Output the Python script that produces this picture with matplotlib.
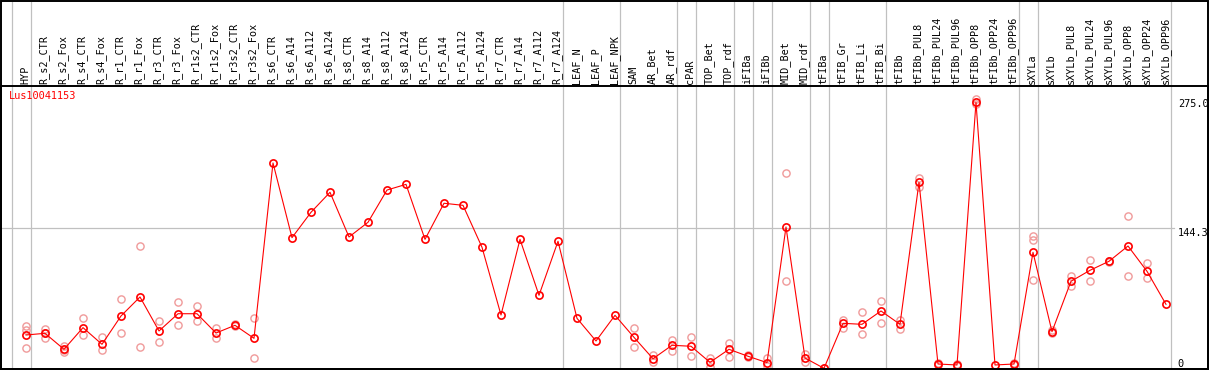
import math
import matplotlib
matplotlib.use("Agg")
import matplotlib.pyplot as plt
import matplotlib.transforms as mtransforms
from matplotlib.patches import Rectangle

gene = "Lus10041153"

samples = [
    "HYP", "R_s2_CTR", "R_s2_Fox", "R_s4_CTR", "R_s4_Fox", "R_r1_CTR", "R_r1_Fox",
    "R_r3_CTR", "R_r3_Fox", "R_r1s2_CTR", "R_r1s2_Fox", "R_r3s2_CTR", "R_r3s2_Fox",
    "R_s6_CTR", "R_s6_A14", "R_s6_A112", "R_s6_A124", "R_s8_CTR", "R_s8_A14",
    "R_s8_A112", "R_s8_A124", "R_r5_CTR", "R_r5_A14", "R_r5_A112", "R_r5_A124",
    "R_r7_CTR", "R_r7_A14", "R_r7_A112", "R_r7_A124", "LEAF_N", "LEAF_P", "LEAF_NPK",
    "SAM", "AR_Bet", "AR_rdf", "cPAR", "TOP_Bet", "TOP_rdf", "iFIBa", "iFIBb",
    "MID_Bet", "MID_rdf", "tFIBa", "tFIB_Gr", "tFIB_Li", "tFIB_Bi", "tFIBb",
    "tFIBb_PUL8", "tFIBb_PUL24", "tFIBb_PUL96", "tFIBb_OPP8", "tFIBb_OPP24",
    "tFIBb_OPP96", "sXYLa", "sXYLb", "sXYLb_PUL8", "sXYLb_PUL24", "sXYLb_PUL96",
    "sXYLb_OPP8", "sXYLb_OPP24", "sXYLb_OPP96",
]

# mean expression per sample
means = [
    34.7, 36.4, 20.1, 42.2, 25.2, 54.1, 73.5, 38.8, 56.4, 56.4, 36.7, 44.6, 31.3,
    210.2, 134.0, 159.9, 180.3, 134.7, 149.7, 182.6, 188.4, 132.3, 169.1, 167.0,
    124.2, 55.1, 132.3, 75.2, 130.3,
    51.7, 28.6, 54.8, 32.3, 10.5, 24.2, 23.2, 6.8, 20.1, 13.0, 6.5, 144.9, 11.2,
    0.7, 46.6, 45.6, 59.2, 45.6,
    190.5, 5.1, 4.1, 272.0, 4.1, 5.1, 119.0, 38.1, 89.5, 100.7, 109.9, 125.5,
    99.7, 66.0,
]

# individual replicates (pink circles)
replicates = [
    [43.9, 39.8, 21.1], [41.1, 31.6, 36.5], [23.8, 17.0, 19.5], [51.7, 34.4],
    [32.6, 19.1], [71.1, 36.4], [125.5, 22.4], [49.0, 27.2], [68.1, 44.6],
    [64.3, 48.7], [42.2, 31.3], [45.5, 43.8], [51.7, 11.2],
    [], [], [], [], [], [], [], [], [], [], [], [], [], [], [], [],
    [], [], [],
    [41.5, 22.1], [14.0, 7.5], [29.9, 18.7], [32.3, 13.6], [10.9, 2.3],
    [26.5, 12.6], [14.5, 11.8], [10.9, 3.1], [199.7, 89.5], [15.3, 6.8],
    [1.5], [50.0, 42.2], [57.9, 35.4], [69.1, 46.6], [50.0, 40.8],
    [194.6, 186.0], [6.0, 4.0], [5.0, 3.5], [275.0, 270.0], [], [6.0, 4.5],
    [135.7, 131.6, 90.5], [40.0, 36.5], [94.9, 85.0], [110.9, 89.5],
    [110.5, 109.3], [156.1, 94.6], [107.8, 92.5], [],
]

# group separators fall after these sample indices
separators = [-1, 0, 28, 31, 34, 35, 37, 38, 39, 41, 42, 45, 52, 53, 60]

RED = "#ff0000"
PINK = "#f09a9a"
GREY = "#c0c0c0"
MONO = "DejaVu Sans Mono"

W, H = 1209, 370
fig = plt.figure(figsize=(W / 100, H / 100), dpi=100)
ax = fig.add_axes([1 / W, 1 / H, 1207 / W, 283 / H])

peak = max(max(means), max(v for r in replicates for v in r))
ymax = peak * 1.05
ax.set_ylim(0, ymax)
ax.set_xlim(-25 / 19, 1182 / 19)
ax.set_xticks([])
ax.set_yticks([])
for s in ax.spines.values():
    s.set_linewidth(1.4)

xs = list(range(len(samples)))
hdr = mtransforms.blended_transform_factory(ax.transData, fig.transFigure)

# separators
ax.vlines([i + 5 / 19 for i in separators], 0, 1, transform=hdr,
          color=GREY, lw=0.9, clip_on=False, zorder=0)
ax.axhline(ymax / 2, xmin=0, xmax=0.972, color=GREY, lw=0.9, zorder=0)

# replicates
for i, reps in enumerate(replicates):
    if reps:
        ax.plot([i] * len(reps), reps, ls="none", marker="o", ms=5.2,
                mfc="none", mec=PINK, mew=1.0, clip_on=False, zorder=2)

# mean line
ax.plot(xs, means, color=RED, lw=0.8, marker="o", ms=5.2, mfc="none",
        mec=RED, mew=1.2, clip_on=False, zorder=3)

# sample labels in the header
for i, name in enumerate(samples):
    ax.text(i - 0.05, (H - 84) / H, name, transform=hdr, rotation=90,
            ha="center", va="bottom", fontsize=7.3, family=MONO, color="black")

# gene name
fig.text(9 / W, 1 - 91 / H, gene, ha="left", va="top", fontsize=7.4,
         family=MONO, color=RED)

# value labels on the right
yt = ax.get_yaxis_transform()
mid = math.floor(ymax / 2 * 10) / 10
ax.text(0.975, peak, "%.1f" % peak, transform=yt, ha="left", va="top",
        fontsize=7.4, family=MONO, clip_on=False)
ax.text(0.975, ymax / 2, "%.1f" % mid, transform=yt, ha="left", va="top",
        fontsize=7.4, family=MONO, clip_on=False)
ax.text(0.975, 0, "0", transform=yt, ha="left", va="bottom",
        fontsize=7.4, family=MONO, clip_on=False)

# outer frame
fig.add_artist(Rectangle((0.6 / W, 1 / H), 1207.4 / W, (H - 1.6) / H,
                         transform=fig.transFigure, fill=False,
                         edgecolor="black", lw=1.4))

fig.savefig("out.png", dpi=100)
